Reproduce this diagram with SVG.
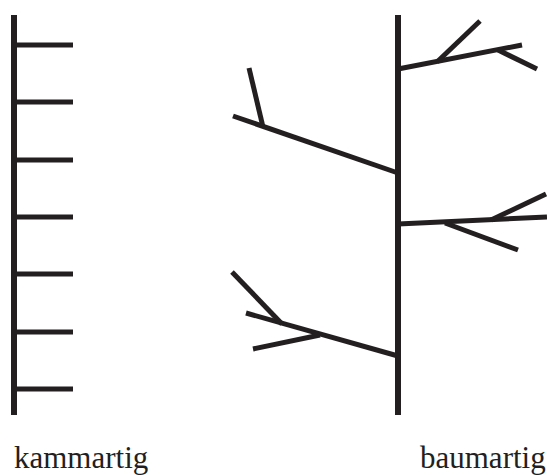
<svg xmlns="http://www.w3.org/2000/svg" width="547" height="475" viewBox="0 0 547 475">
<style>
.l{stroke:#231f20;stroke-width:5;fill:none;stroke-linecap:butt}
.v{stroke:#231f20;stroke-width:6;fill:none}
.t{font-family:"Liberation Serif",serif;font-size:31px;fill:#231f20}
</style>
<rect width="547" height="475" fill="#fff"/>
<g id="kamm">
<line class="v" x1="14" y1="15" x2="14" y2="415"/>
<line class="l" x1="14" y1="45" x2="73" y2="45"/>
<line class="l" x1="14" y1="102" x2="73" y2="102"/>
<line class="l" x1="14" y1="160" x2="73" y2="160"/>
<line class="l" x1="14" y1="217" x2="73" y2="217"/>
<line class="l" x1="14" y1="274" x2="73" y2="274"/>
<line class="l" x1="14" y1="332" x2="73" y2="332"/>
<line class="l" x1="14" y1="389" x2="73" y2="389"/>
</g>
<g id="baum">
<line class="v" x1="398" y1="15" x2="398" y2="415"/>
<line class="l" x1="398" y1="69" x2="522" y2="45"/>
<line class="l" x1="437" y1="62" x2="480" y2="21"/>
<line class="l" x1="498" y1="50" x2="537" y2="69"/>
<line class="l" x1="398" y1="173" x2="233" y2="116"/>
<line class="l" x1="263" y1="127" x2="249" y2="68"/>
<line class="l" x1="398" y1="224" x2="547" y2="217"/>
<line class="l" x1="491" y1="220" x2="546" y2="194"/>
<line class="l" x1="445" y1="223" x2="518" y2="250"/>
<line class="l" x1="398" y1="356" x2="246" y2="313"/>
<line class="l" x1="282" y1="324" x2="232" y2="272"/>
<line class="l" x1="320" y1="335" x2="253" y2="349"/>
</g>
<text class="t" x="14" y="468">kammartig</text>
<text class="t" x="420" y="468">baumartig</text>
</svg>
